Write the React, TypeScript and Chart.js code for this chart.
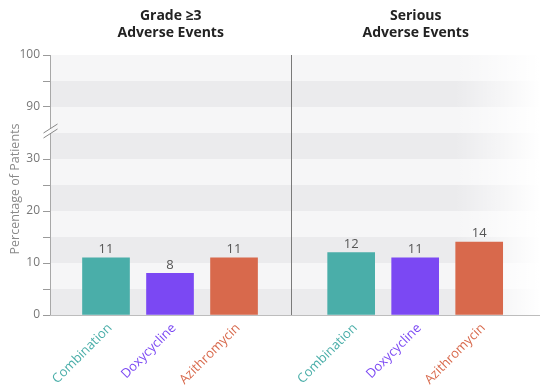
import React, { useEffect, useRef } from 'react';
import { Chart, registerables } from 'chart.js';

Chart.register(...registerables);

// ---- data ----
const categories = ['Combination', 'Doxycycline', 'Azithromycin'];
const grade3Values = [11, 8, 11];
const seriousValues = [12, 11, 14];
const panelTitles = [
  ['Grade ≥3', 'Adverse Events'],
  ['Serious', 'Adverse Events'],
];
const categoryColors = ['#4aaea9', '#7b48f3', '#d8694c'];
const yLabelValues = [0, 10, 20, 30, 90, 100];
const yMinorValues = [5, 15, 25, 95];
const yAxisTitle = 'Percentage of Patients';

// broken axis: 0–35 shown, then jump to 85–100
const BREAK_FROM = 35;
const BREAK_TO = 85;
const toAxis = (v: number) => (v <= BREAK_FROM ? v : v - (BREAK_TO - BREAK_FROM));
const fromAxis = (a: number) => (a <= BREAK_FROM ? a : a + (BREAK_TO - BREAK_FROM));

// layout positions (x in category units)
const PANEL2_OFFSET = 3.83;
const X_MIN = -0.875;
const X_MAX = 6.78;
const DIVIDER_X = 2.89;

const FONT = '"Open Sans", "Noto Sans", sans-serif';

export default function App() {
  const ref = useRef<HTMLCanvasElement | null>(null);

  useEffect(() => {
    const canvas = ref.current;
    if (!canvas) return;

    const leftPts = grade3Values.map((v, i) => ({ x: i, y: toAxis(v) }));
    const rightPts = seriousValues.map((v, i) => ({ x: i + PANEL2_OFFSET, y: toAxis(v) }));
    const xTickPositions = [0, 1, 2, 0 + PANEL2_OFFSET, 1 + PANEL2_OFFSET, 2 + PANEL2_OFFSET];
    const yTickPositions = [...yLabelValues, ...yMinorValues].map(toAxis).sort((a, b) => a - b);

    const decor = {
      id: 'decor',
      beforeDraw(chart: any) {
        const { ctx, chartArea } = chart;
        const ys = chart.scales.y;
        ctx.save();
        for (let a = 0; a < 50; a += 5) {
          const yTop = ys.getPixelForValue(a + 5);
          const yBot = ys.getPixelForValue(a);
          ctx.fillStyle = (a / 5) % 2 === 0 ? '#ebebed' : '#f6f6f7';
          ctx.fillRect(chartArea.left, yTop, chartArea.right - chartArea.left, yBot - yTop);
        }
        const g = ctx.createLinearGradient(455, 0, chartArea.right, 0);
        g.addColorStop(0, 'rgba(255,255,255,0)');
        g.addColorStop(1, 'rgba(255,255,255,1)');
        ctx.fillStyle = g;
        ctx.fillRect(455, chartArea.top, chartArea.right - 455, chartArea.bottom - chartArea.top);
        ctx.restore();
      },
      afterDraw(chart: any) {
        const { ctx, chartArea } = chart;
        const xs = chart.scales.x;
        const ys = chart.scales.y;
        ctx.save();
        // y axis line with break
        const ax = Math.round(chartArea.left) + 0.5;
        const yb = ys.getPixelForValue(BREAK_FROM) - 2;
        ctx.strokeStyle = '#a8a8a8';
        ctx.lineWidth = 1;
        ctx.beginPath();
        ctx.moveTo(ax, chartArea.top);
        ctx.lineTo(ax, yb - 3);
        ctx.moveTo(ax, yb + 3);
        ctx.lineTo(ax, chartArea.bottom);
        ctx.stroke();
        ctx.strokeStyle = '#888';
        ctx.beginPath();
        ctx.moveTo(ax - 7, yb + 2);
        ctx.lineTo(ax + 7, yb - 7);
        ctx.moveTo(ax - 7, yb + 7);
        ctx.lineTo(ax + 7, yb - 2);
        ctx.stroke();

        // divider
        const dx = Math.round(xs.getPixelForValue(DIVIDER_X)) + 0.5;
        ctx.strokeStyle = '#7a7a7a';
        ctx.beginPath();
        ctx.moveTo(dx, chartArea.top);
        ctx.lineTo(dx, chartArea.bottom);
        ctx.stroke();

        // panel titles
        ctx.fillStyle = '#222';
        ctx.font = `700 14px ${FONT}`;
        ctx.textAlign = 'center';
        ctx.textBaseline = 'alphabetic';
        const centers = [(chartArea.left + dx) / 2, (dx + chartArea.right) / 2];
        panelTitles.forEach((lines, i) => {
          lines.forEach((t, j) => ctx.fillText(t, centers[i], 20 + j * 17));
        });

        // y axis title
        ctx.save();
        ctx.translate(15, 189);
        ctx.rotate(-Math.PI / 2);
        ctx.fillStyle = '#8a8a8a';
        ctx.font = `12.5px ${FONT}`;
        ctx.textAlign = 'center';
        ctx.textBaseline = 'middle';
        ctx.fillText(yAxisTitle, 0, 0);
        ctx.restore();

        // x category labels (rotated)
        ctx.font = `13px ${FONT}`;
        ctx.textAlign = 'right';
        ctx.textBaseline = 'middle';
        xTickPositions.forEach((v, i) => {
          const px = xs.getPixelForValue(v);
          ctx.save();
          ctx.translate(px + 4, chartArea.bottom + 11);
          ctx.rotate(-Math.PI / 4);
          ctx.fillStyle = categoryColors[i % 3];
          ctx.fillText(categories[i % 3], 0, 0);
          ctx.restore();
        });

        // value labels
        ctx.fillStyle = '#555';
        ctx.font = `13px ${FONT}`;
        ctx.textAlign = 'center';
        ctx.textBaseline = 'bottom';
        const all = [grade3Values, seriousValues];
        all.forEach((vals, di) => {
          const meta = chart.getDatasetMeta(di);
          meta.data.forEach((el: any, i: number) => {
            ctx.fillText(String(vals[i]), el.x, el.y - 2);
          });
        });
        ctx.restore();
      },
    };

    const chart = new Chart(canvas, {
      type: 'bar',
      data: {
        datasets: [
          { data: leftPts as any, backgroundColor: categoryColors, grouped: false, barThickness: 47 } as any,
          { data: rightPts as any, backgroundColor: categoryColors, grouped: false, barThickness: 47 } as any,
        ],
      },
      options: {
        responsive: false,
        animation: false,
        devicePixelRatio: 1,
        layout: { padding: { top: 55, left: 0, right: 0, bottom: 0 } },
        plugins: { legend: { display: false }, tooltip: { enabled: false }, title: { display: false } },
        scales: {
          x: {
            type: 'linear',
            min: X_MIN,
            max: X_MAX,
            offset: false,
            bounds: 'data',
            grid: { display: false },
            border: { display: true, color: '#bdbdbd' },
            afterBuildTicks: (s: any) => {
              s.ticks = xTickPositions.map((v) => ({ value: v }));
            },
            afterFit: (s: any) => {
              s.height = 77;
              s.paddingLeft = 0;
              s.paddingRight = 0;
            },
            ticks: { display: false },
          },
          y: {
            type: 'linear',
            min: 0,
            max: 50,
            bounds: 'data',
            grid: { drawOnChartArea: false, drawTicks: true, tickLength: 7, color: '#9a9a9a' },
            border: { display: false },
            afterBuildTicks: (s: any) => {
              s.ticks = yTickPositions.map((v) => ({ value: v }));
            },
            afterFit: (s: any) => {
              s.width = 50;
            },
            ticks: {
              autoSkip: false,
              padding: 3,
              color: '#777',
              font: { family: FONT, size: 12 },
              callback: (v: any) => {
                const real = fromAxis(Number(v));
                return yLabelValues.includes(real) ? String(real) : '';
              },
            },
          },
        },
      },
      plugins: [decor],
    } as any);

    return () => chart.destroy();
  }, []);

  return (
    <div style={{ position: 'fixed', left: 0, top: 0, width: 540, height: 392, background: '#fff' }}>
      <canvas ref={ref} width={540} height={392} style={{ width: 540, height: 392, display: 'block' }} />
    </div>
  );
}
